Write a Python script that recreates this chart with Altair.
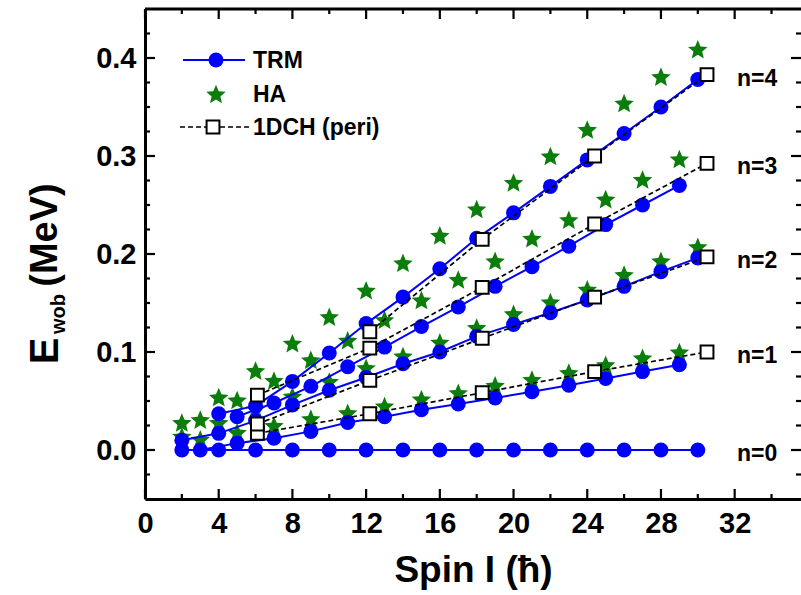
import altair as alt
import pandas as pd

# ---------------- data ----------------
# TRM (blue circles, solid lines)
trm_I_n0 = [2, 4, 6, 8, 10, 12, 14, 16, 18, 20, 22, 24, 26, 28, 30]
trm_E_n0 = [0.0, 0.0, 0.0, 0.0, 0.0, 0.0, 0.0, 0.0, 0.0, 0.0, 0.0, 0.0, 0.0, 0.0, 0.0]
trm_I_n1 = [3, 5, 7, 9, 11, 13, 15, 17, 19, 21, 23, 25, 27, 29]
trm_E_n1 = [0.0, 0.007, 0.012, 0.019, 0.028, 0.034, 0.041, 0.047, 0.053, 0.0595, 0.066, 0.073, 0.080, 0.087]
trm_I_n2 = [2, 4, 6, 8, 10, 12, 14, 16, 18, 20, 22, 24, 26, 28, 30]
trm_E_n2 = [0.010, 0.017, 0.030, 0.046, 0.061, 0.074, 0.088, 0.100, 0.116, 0.128, 0.140, 0.153, 0.167, 0.182, 0.196]
trm_I_n3 = [5, 7, 9, 11, 13, 15, 17, 19, 21, 23, 25, 27, 29]
trm_E_n3 = [0.034, 0.048, 0.065, 0.085, 0.105, 0.126, 0.146, 0.167, 0.187, 0.208, 0.230, 0.250, 0.270]
trm_I_n4 = [4, 6, 8, 10, 12, 14, 16, 18, 20, 22, 24, 26, 28, 30]
trm_E_n4 = [0.037, 0.045, 0.070, 0.099, 0.129, 0.156, 0.185, 0.216, 0.242, 0.269, 0.296, 0.323, 0.350, 0.378]

# HA (green stars)
ha_I_n1 = [3, 5, 7, 9, 11, 13, 15, 17, 19, 21, 23, 25, 27, 29]
ha_E_n1 = [0.011, 0.018, 0.025, 0.032, 0.038, 0.045, 0.052, 0.0585, 0.066, 0.072, 0.079, 0.087, 0.094, 0.100]
ha_I_n2 = [2, 4, 6, 8, 10, 12, 14, 16, 18, 20, 22, 24, 26, 28, 30]
ha_E_n2 = [0.014, 0.028, 0.042, 0.055, 0.070, 0.084, 0.096, 0.110, 0.125, 0.139, 0.151, 0.164, 0.179, 0.193, 0.2075]
ha_I_n3 = [3, 5, 7, 9, 11, 13, 15, 17, 19, 21, 23, 25, 27, 29]
ha_E_n3 = [0.031, 0.051, 0.071, 0.092, 0.112, 0.133, 0.153, 0.174, 0.193, 0.216, 0.235, 0.256, 0.276, 0.297]
ha_I_n4 = [2, 4, 6, 8, 10, 12, 14, 16, 18, 20, 22, 24, 26, 28, 30]
ha_E_n4 = [0.028, 0.054, 0.081, 0.109, 0.136, 0.163, 0.191, 0.219, 0.246, 0.273, 0.300, 0.327, 0.354, 0.381, 0.409]

# 1DCH (peri) (open squares, dashed lines)
dch_I_n1 = [6.1, 12.2, 18.3, 24.4, 30.5]
dch_E_n1 = [0.017, 0.037, 0.0585, 0.080, 0.100]
dch_I_n2 = [6.1, 12.2, 18.3, 24.4, 30.5]
dch_E_n2 = [0.0265, 0.071, 0.114, 0.156, 0.197]
dch_I_n3 = [6.1, 12.2, 18.3, 24.4, 30.5]
dch_E_n3 = [0.056, 0.104, 0.166, 0.2306, 0.2925]
dch_I_n4 = [12.2, 18.3, 24.4, 30.5]
dch_E_n4 = [0.1207, 0.215, 0.300, 0.383]

band_labels = ["n=0", "n=1", "n=2", "n=3", "n=4"]

x_major = [0, 4, 8, 12, 16, 20, 24, 28, 32]
x_minor = [2, 6, 10, 14, 18, 22, 26, 30, 34]
y_major = [0.0, 0.1, 0.2, 0.3, 0.4]
y_minor = [-0.025, 0.025, 0.05, 0.075, 0.125, 0.15, 0.175, 0.225, 0.25,
           0.275, 0.325, 0.35, 0.375, 0.425]


def frame(pairs):
    rows = []
    for n, (I, E) in pairs:
        for i, e in zip(I, E):
            rows.append({"I": i, "E": e, "n": n})
    return pd.DataFrame(rows)


trm = frame([(0, (trm_I_n0, trm_E_n0)), (1, (trm_I_n1, trm_E_n1)),
             (2, (trm_I_n2, trm_E_n2)), (3, (trm_I_n3, trm_E_n3)),
             (4, (trm_I_n4, trm_E_n4))])
ha = frame([(1, (ha_I_n1, ha_E_n1)), (2, (ha_I_n2, ha_E_n2)),
            (3, (ha_I_n3, ha_E_n3)), (4, (ha_I_n4, ha_E_n4))])
dch = frame([(1, (dch_I_n1, dch_E_n1)), (2, (dch_I_n2, dch_E_n2)),
             (3, (dch_I_n3, dch_E_n3)), (4, (dch_I_n4, dch_E_n4))])

last_vals = [trm_E_n0[-1], dch_E_n1[-1], dch_E_n2[-1], dch_E_n3[-1], dch_E_n4[-1]]
labels = pd.DataFrame({"lab": band_labels, "E": last_vals})

xt_major = pd.DataFrame({"v": x_major})
xt_minor = pd.DataFrame({"v": x_minor})
yt_major = pd.DataFrame({"v": y_major})
yt_minor = pd.DataFrame({"v": y_minor})

# ---------------- style ----------------
W, H = 656, 490
FONT = "Liberation Sans"
BLUE = "#0000ff"
GREEN = "#0b7d0b"
STAR = ("M0,-0.905L0.2645,-0.269L0.9511,-0.214L0.428,0.234L0.5878,0.904"
        "L0,0.545L-0.5878,0.904L-0.428,0.234L-0.9511,-0.214L-0.2645,-0.269Z")
STAR_SIZE = 420
CIRC_SIZE = 225
SQ_SIZE = 165
xs = alt.Scale(domain=[0, 35.6], nice=False, zero=False)
ys = alt.Scale(domain=[-0.05, 0.45], nice=False, zero=False)

main_x = alt.Axis(values=x_major, format="d", tickSize=0,
                  labelFont=FONT, labelFontSize=29, labelFontWeight="bold",
                  labelColor="black", labelPadding=10, labelFlush=False,
                  labelOverlap=False, domainColor="black", domainWidth=3,
                  grid=False, title="Spin I (ħ)", titleFont=FONT,
                  titleFontSize=37, titleFontWeight="bold", titleColor="black",
                  titlePadding=14)
main_y = alt.Axis(values=y_major, format=".1f", tickSize=0,
                  labelFont=FONT, labelFontSize=29, labelFontWeight="bold",
                  labelColor="black", labelPadding=9, labelFlush=False,
                  labelOverlap=False, domainColor="black", domainWidth=3,
                  grid=False, title=None)

ha_layer = alt.Chart(ha).mark_point(shape=STAR, filled=True, size=STAR_SIZE,
                                    color=GREEN, opacity=1).encode(
    x=alt.X("I:Q", scale=xs, axis=main_x),
    y=alt.Y("E:Q", scale=ys, axis=main_y),
)

trm_line = alt.Chart(trm).mark_line(color=BLUE, strokeWidth=2).encode(
    x=alt.X("I:Q", scale=xs),
    y=alt.Y("E:Q", scale=ys),
    detail="n:N",
    order="I:Q",
)

trm_pts = alt.Chart(trm).mark_point(shape="circle", filled=True, size=CIRC_SIZE,
                                    color=BLUE, opacity=1).encode(
    x=alt.X("I:Q", scale=xs),
    y=alt.Y("E:Q", scale=ys),
)

dch_line = alt.Chart(dch).mark_line(color="black", strokeWidth=1.7,
                                    strokeDash=[5, 3]).encode(
    x=alt.X("I:Q", scale=xs),
    y=alt.Y("E:Q", scale=ys),
    detail="n:N",
    order="I:Q",
)

dch_pts = alt.Chart(dch).mark_point(shape="square", filled=True, size=SQ_SIZE,
                                    fill="white", stroke="black",
                                    strokeWidth=2, opacity=1).encode(
    x=alt.X("I:Q", scale=xs),
    y=alt.Y("E:Q", scale=ys),
)

label_layer = alt.Chart(labels).mark_text(
    align="left", baseline="middle", font=FONT, fontSize=23,
    fontWeight="bold", color="black", dy=4).encode(
    x=alt.value(592),
    y=alt.Y("E:Q", scale=ys),
    text="lab:N",
)


# inward ticks drawn through the scales
def xticks(df, y0, y1):
    return alt.Chart(df).mark_rule(color="black", strokeWidth=2.2).encode(
        x=alt.X("v:Q", scale=xs), y=alt.value(y0), y2=alt.value(y1))


def yticks(df, x0, x1):
    return alt.Chart(df).mark_rule(color="black", strokeWidth=2.2).encode(
        y=alt.Y("v:Q", scale=ys), x=alt.value(x0), x2=alt.value(x1))


ticks = [
    xticks(xt_major, H, H - 10), xticks(xt_minor, H, H - 5),
    xticks(xt_major, 0, 10), xticks(xt_minor, 0, 5),
    yticks(yt_major, 0, 10), yticks(yt_minor, 0, 5),
    yticks(yt_major, W, W - 10), yticks(yt_minor, W, W - 5),
]

one = pd.DataFrame({"k": [0]})
top_frame = alt.Chart(one).mark_rule(color="black", strokeWidth=3).encode(
    x=alt.value(0), x2=alt.value(W), y=alt.value(0))

txt = dict(align="left", baseline="middle", font=FONT, fontSize=23,
           fontWeight="bold", color="black")
leg = [
    alt.Chart(one).mark_rule(color=BLUE, strokeWidth=2).encode(
        x=alt.value(38), x2=alt.value(100), y=alt.value(51)),
    alt.Chart(one).mark_point(shape="circle", filled=True, size=CIRC_SIZE, color=BLUE,
                              opacity=1).encode(x=alt.value(71), y=alt.value(51)),
    alt.Chart(one).mark_text(text="TRM", **txt).encode(x=alt.value(108), y=alt.value(52)),
    alt.Chart(one).mark_point(shape=STAR, filled=True, size=STAR_SIZE, color=GREEN,
                              opacity=1).encode(x=alt.value(71), y=alt.value(85)),
    alt.Chart(one).mark_text(text="HA", **txt).encode(x=alt.value(108), y=alt.value(86)),
    alt.Chart(one).mark_rule(color="black", strokeWidth=1.7, strokeDash=[5, 3]).encode(
        x=alt.value(35), x2=alt.value(105), y=alt.value(118)),
    alt.Chart(one).mark_point(shape="square", filled=True, size=SQ_SIZE, fill="white",
                              stroke="black", strokeWidth=2, opacity=1).encode(
        x=alt.value(68), y=alt.value(118)),
    alt.Chart(one).mark_text(text="1DCH (peri)", **txt).encode(x=alt.value(108), y=alt.value(119)),
]

ytitle = [
    alt.Chart(one).mark_text(text="E", angle=270, align="center", baseline="middle",
                             font=FONT, fontSize=40, fontWeight="bold", color="black").encode(
        x=alt.value(-99), y=alt.value(342)),
    alt.Chart(one).mark_text(text="wob", angle=270, align="center", baseline="middle",
                             font=FONT, fontSize=20, fontWeight="bold", color="black").encode(
        x=alt.value(-86), y=alt.value(305)),
    alt.Chart(one).mark_text(text="(MeV)", angle=270, align="center", baseline="middle",
                             font=FONT, fontSize=38, fontWeight="bold", color="black").encode(
        x=alt.value(-99), y=alt.value(226)),
]

chart = alt.layer(ha_layer, trm_line, trm_pts, dch_line, dch_pts, label_layer,
                  *ticks, top_frame, *leg, *ytitle).properties(
    width=W, height=H, autosize="none",
    padding={"left": 145, "top": 9, "right": 0, "bottom": 96},
    background="white",
).configure_view(stroke=None)

chart.save("out.html", embed_options={"renderer": "svg", "actions": False})
